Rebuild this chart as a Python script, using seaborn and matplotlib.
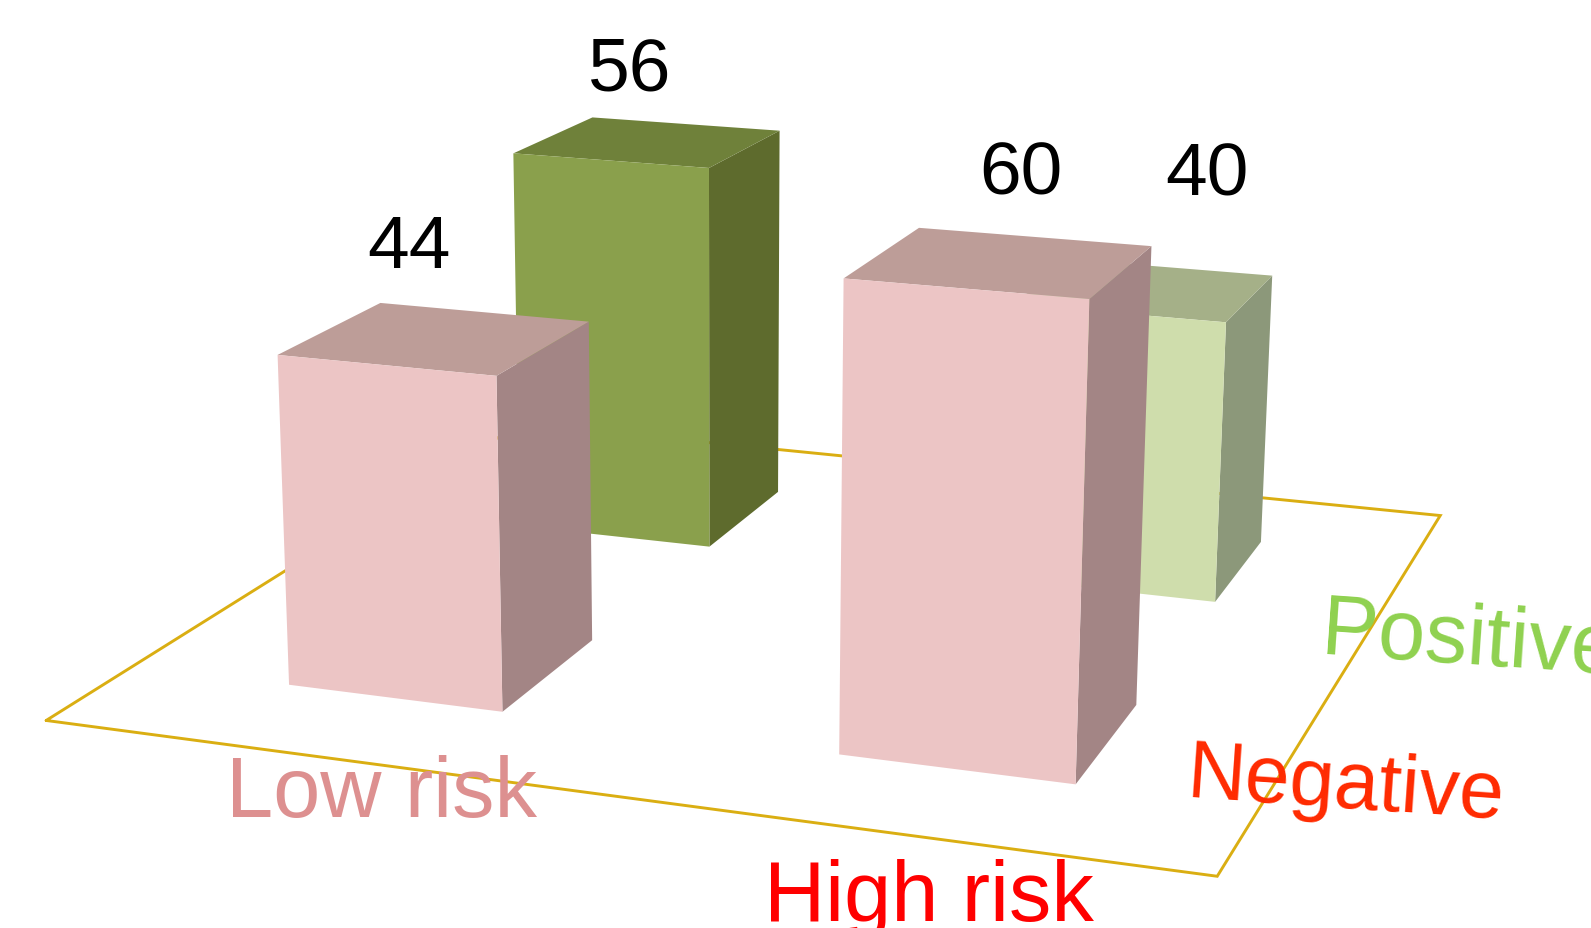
import matplotlib
matplotlib.use("Agg")
import matplotlib.pyplot as plt
import numpy as np
import pandas as pd
import seaborn as sns

categories = ["Low risk", "High risk"]
outcomes = ["Negative", "Positive"]
low_risk_values = [44, 56]
high_risk_values = [60, 40]

sns.set_theme(style="white")
plt.rcParams["font.family"] = ["Liberation Sans", "DejaVu Sans"]

table = pd.DataFrame(
    {"risk": [categories[0]] * 2 + [categories[1]] * 2,
     "outcome": outcomes * 2,
     "percent": low_risk_values + high_risk_values}
)
table["x"] = table["risk"].map({c: i for i, c in enumerate(categories)})
table["y"] = table["outcome"].map({c: i for i, c in enumerate(outcomes)})

# top, front and right-hand face colours for each bar
face_colours = {
    ("Low risk", "Negative"): ("#BD9D98", "#ECC5C5", "#A38585"),
    ("High risk", "Negative"): ("#BD9D98", "#ECC5C5", "#A38585"),
    ("Low risk", "Positive"): ("#6F813A", "#8AA04C", "#5E6B2D"),
    ("High risk", "Positive"): ("#A5B088", "#CFDDAC", "#8C987A"),
}

W, H = 1591, 929
fig = plt.figure(figsize=(W / 100, H / 100), dpi=100, facecolor="white")

# square axes, positioned so the box centre lands on the camera axis
side = 1539.0
centre_x, centre_y = 806.2, 463.0
left = centre_x - 0.5135 * side
bottom = centre_y - 0.5135 * side
ax = fig.add_axes([left / W, bottom / H, side / W, side / H], projection="3d")
ax.set_proj_type("persp", focal_length=0.439)
ax.view_init(elev=16, azim=-71.1, roll=-0.37)
ax.set_box_aspect((1, 1, 0.2752), zoom=1)
ax.computed_zorder = False
ax.set_axis_off()

# floor outline
ax.plot([-0.5, 1.5, 1.5, -0.5, -0.5], [-0.5, -0.5, 1.5, 1.5, -0.5], [0, 0, 0, 0, 0],
        color="#DAAE12", lw=2.1, zorder=1, solid_joinstyle="miter")

bar_width = 0.4
draw_order = [("Low risk", "Positive"), ("High risk", "Positive"),
              ("Low risk", "Negative"), ("High risk", "Negative")]
none = (0, 0, 0, 0)
for z, key in enumerate(draw_order):
    row = table[(table["risk"] == key[0]) & (table["outcome"] == key[1])].iloc[0]
    top, front, right = face_colours[key]
    ax.bar3d(row["x"] - bar_width / 2, row["y"] - bar_width / 2, 0,
             bar_width, bar_width, row["percent"],
             color=[none, top, front, none, none, right],
             shade=False, edgecolor="none", zorder=2 + z)

ax.set_xlim(-0.5, 1.5, view_margin=0)
ax.set_ylim(-0.5, 1.5, view_margin=0)
ax.set_zlim(0, 41.3, view_margin=0)


def place(px, py, text, **kw):
    fig.text(px * 1591 / 1568 / W, 1 - py * 1591 / 1568 / H, text,
             ha="center", va="center", **kw)


place(403, 245, str(low_risk_values[0]), fontsize=54, color="black")
place(621, 70, str(low_risk_values[1]), fontsize=54, color="black")
place(1006, 172, str(high_risk_values[0]), fontsize=54, color="black")
place(1189, 173, str(high_risk_values[1]), fontsize=54, color="black")
place(376, 784, categories[0], fontsize=61, color="#DD9090")
place(916, 886, categories[1], fontsize=61, color="#FF0000")
place(1326, 776, outcomes[0], fontsize=58, color="#FF2A00", rotation=-4)
place(1448, 633, outcomes[1], fontsize=61, color="#8FD14F", rotation=-4)

fig.savefig("out.png", dpi=100)
